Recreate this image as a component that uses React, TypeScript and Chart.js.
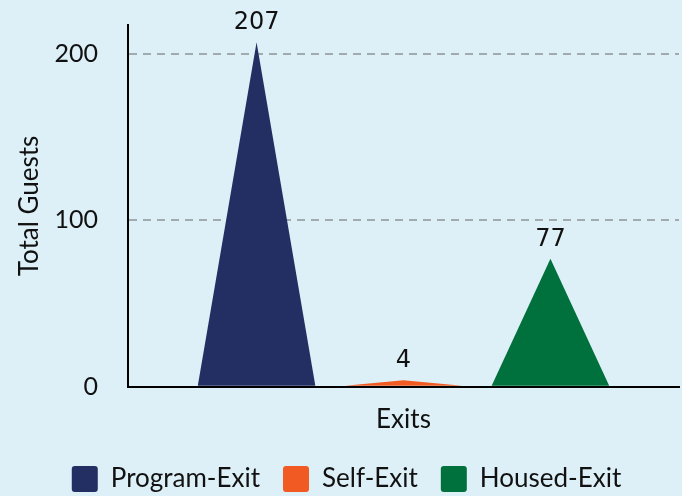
import React, { useEffect, useRef } from "react";
import { Chart, registerables } from "chart.js";

Chart.register(...registerables);

const categories = ["Exits"];
const seriesNames = ["Program-Exit", "Self-Exit", "Housed-Exit"];
const programExit = [207];
const selfExit = [4];
const housedExit = [77];
const seriesColors = ["#232f63", "#f15a22", "#00703c"];
const yTickValues = [0, 100, 200];
const yTitle = "Total Guests";

const BG = "#ddf0f7";

const trianglePlugin = {
  id: "triangles",
  beforeDatasetDraw(chart: any, args: any) {
    const meta = args.meta;
    const ctx = chart.ctx;
    const ds = chart.data.datasets[args.index];
    ctx.save();
    ctx.fillStyle = ds.backgroundColor;
    meta.data.forEach((el: any) => {
      const { x, y, base, width } = el.getProps(["x", "y", "base", "width"], true);
      ctx.beginPath();
      ctx.moveTo(x - width / 2, base);
      ctx.lineTo(x, y);
      ctx.lineTo(x + width / 2, base);
      ctx.closePath();
      ctx.fill();
    });
    ctx.restore();
    return false;
  },
};

const valueLabelPlugin = {
  id: "valueLabels",
  afterDatasetsDraw(chart: any) {
    const ctx = chart.ctx;
    ctx.save();
    ctx.font = "24px 'DejaVu Sans'";
    ctx.fillStyle = "#111111";
    ctx.textAlign = "center";
    ctx.textBaseline = "alphabetic";
    chart.data.datasets.forEach((ds: any, i: number) => {
      const meta = chart.getDatasetMeta(i);
      meta.data.forEach((el: any, j: number) => {
        const { x, y } = el.getProps(["x", "y"], true);
        ctx.fillText(String(ds.data[j]), x, y - 13);
      });
    });
    ctx.restore();
  },
};

export default function App() {
  const ref = useRef<HTMLCanvasElement>(null);

  useEffect(() => {
    document.body.style.margin = "0";
    document.body.style.background = BG;
    const allSeries = [programExit, selfExit, housedExit];
    const dataMax = Math.max(...allSeries.flat());
    const chart = new Chart(ref.current as HTMLCanvasElement, {
      type: "bar",
      data: {
        labels: categories,
        datasets: allSeries.map((d, i) => ({
          label: seriesNames[i],
          data: d,
          backgroundColor: seriesColors[i],
          borderWidth: 0,
          barPercentage: 0.8,
          categoryPercentage: 0.8,
        })),
      },
      options: {
        responsive: false,
        animation: false,
        layout: { padding: { top: 25, right: 3, left: 14, bottom: -6 } },
        plugins: {
          tooltip: { enabled: false },
          legend: {
            position: "bottom",
            labels: {
              font: { family: "Lato", size: 26 },
              color: "#111111",
              boxWidth: 26,
              boxHeight: 26,
              padding: 23,
              useBorderRadius: true,
              borderRadius: 3,
            },
          },
        },
        scales: {
          x: {
            z: 1,
            afterFit: (scale: any) => {
              scale.height = scale.height - 9;
            },
            grid: { display: false, drawTicks: false },
            border: { display: true, color: "#000000", width: 2 },
            ticks: {
              font: { family: "Lato", size: 26 },
              color: "#111111",
              padding: 17,
            },
          },
          y: {
            min: 0,
            max: dataMax * 1.05,
            afterBuildTicks: (scale: any) => {
              scale.ticks = yTickValues.map((v) => ({ value: v }));
            },
            afterFit: (scale: any) => {
              scale.width = 114;
              scale.paddingTop = 0;
              scale.paddingBottom = 0;
            },
            grid: {
              drawTicks: false,
              lineWidth: 2,
              color: (c: any) => (c.tick && c.tick.value === 0 ? "rgba(0,0,0,0)" : "#a3aaae"),
            },
            border: { display: true, color: "#000000", width: 2, dash: [8, 6] },
            ticks: {
              font: { family: "Lato", size: 25 },
              color: "#111111",
              padding: 30,
            },
            title: {
              display: true,
              text: yTitle,
              font: { family: "Lato", size: 26 },
              color: "#111111",
              padding: 0,
            },
          },
        },
      },
      plugins: [trianglePlugin, valueLabelPlugin],
    });
    return () => chart.destroy();
  }, []);

  return (
    <div style={{ width: 682, height: 496, background: BG }}>
      <canvas ref={ref} width={682} height={496} style={{ display: "block" }} />
    </div>
  );
}
